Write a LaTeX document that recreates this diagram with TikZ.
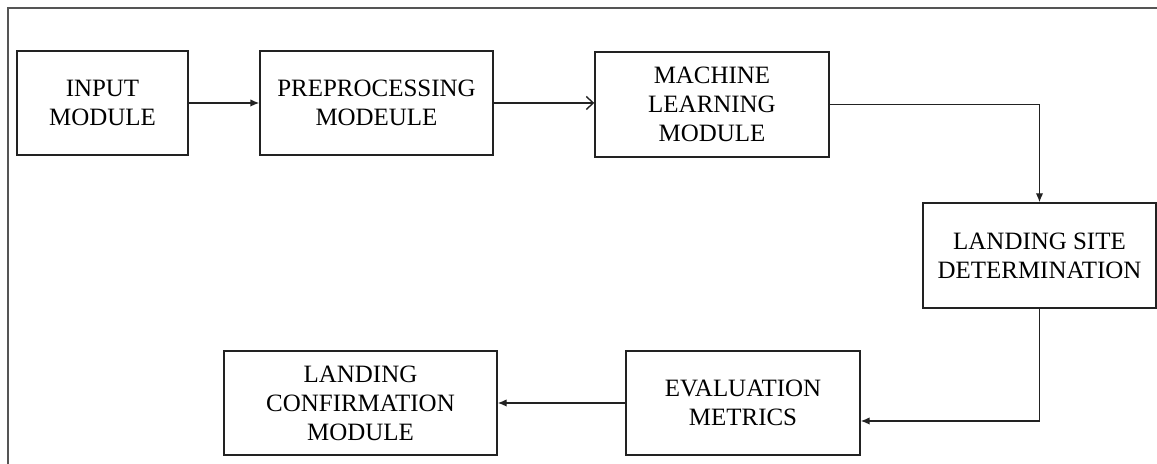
\documentclass[tikz,border=0pt]{standalone}
\usepackage{fontspec}
\setmainfont{Liberation Serif}
\usetikzlibrary{arrows.meta, positioning}
\definecolor{cline}{HTML}{222222}
\definecolor{cframe}{HTML}{555555}
\tikzset{
  every picture/.style={font=\fontsize{14.2}{16.5}\selectfont, line width=0.8pt},
  box/.style={draw=cline, align=center, inner sep=4pt, minimum height=2.08cm},
  arrow/.style={-{Latex[length=1.8mm, width=1.5mm]}, draw=cline, line width=0.8pt},
  openarrow/.style={-{Straight Barb[length=1.4mm, width=2.6mm]}, draw=cline, line width=0.8pt},
}

\begin{document}
\begin{tikzpicture}
  \useasboundingbox (0,0) rectangle (23.14,9.28);
  \draw[cframe, line width=0.6pt] (0.16,0) -- (0.16,9.12) -- (23.14,9.12);

  % top row
  \node[box, minimum width=3.42cm] (inp)  at (2.05,7.22)  {INPUT\\MODULE};
  \node[box, minimum width=4.66cm] (prep) at (7.53,7.22)  {PREPROCESSING\\MODEULE};
  \node[box, minimum width=4.68cm, minimum height=2.1cm] (ml) at (14.24,7.19) {MACHINE\\LEARNING\\MODULE};

  % right side and bottom row
  \node[box, minimum width=4.66cm, minimum height=2.1cm] (site) at (20.79,4.17) {LANDING SITE\\DETERMINATION};
  \node[box, minimum width=4.68cm] (eval) at (14.86,1.22) {EVALUATION\\METRICS};
  \node[box, minimum width=5.46cm] (conf) at (7.21,1.22)  {LANDING\\CONFIRMATION\\MODULE};

  \draw[arrow] (inp) -- (prep);
  \draw[openarrow] (prep.east) -- (prep.east -| ml.west);
  \draw[arrow] (ml.east) -| (site.north);
  \draw[arrow] (site.south) |- ([yshift=-0.36cm]eval.east);
  \draw[arrow] (eval) -- (conf);
\end{tikzpicture}
\end{document}
